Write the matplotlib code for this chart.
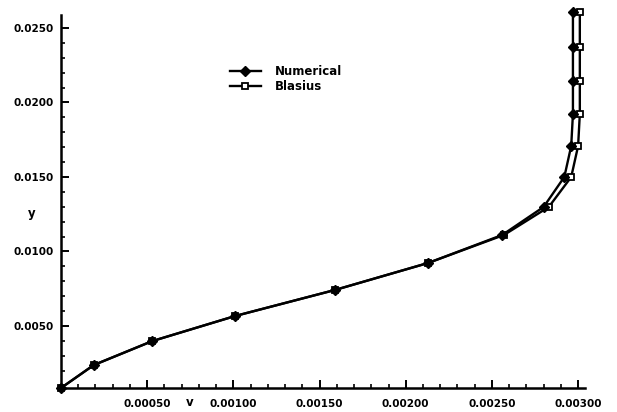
import matplotlib
matplotlib.use("Agg")
import matplotlib.pyplot as plt
from matplotlib.ticker import MultipleLocator, FixedLocator

# Data
y_grid = [0.00084, 0.00238, 0.00399, 0.00567, 0.00742, 0.00923, 0.01111,
          0.01299, 0.01500, 0.01708, 0.01923, 0.02144, 0.02372, 0.02607]
v_numerical = [0.0, 0.00019, 0.00053, 0.00101, 0.00159, 0.00213, 0.00256,
               0.00280, 0.00292, 0.00296, 0.00297, 0.00297, 0.00297, 0.00297]
v_blasius = [0.0, 0.00019, 0.00053, 0.00101, 0.00159, 0.00213, 0.00257,
             0.00283, 0.00296, 0.00300, 0.00301, 0.00301, 0.00301, 0.00301]

x_ticks = [0.0005, 0.0010, 0.0015, 0.0020, 0.0025, 0.0030]
x_ticklabels = ["0.00050", "0.00100", "0.00150", "0.00200", "0.00250", "0.00300"]
y_ticks = [0.0050, 0.0100, 0.0150, 0.0200, 0.0250]
y_ticklabels = ["0.0050", "0.0100", "0.0150", "0.0200", "0.0250"]

W, H = 617, 412
fig = plt.figure(figsize=(W / 100, H / 100), dpi=100)
ax = fig.add_axes([61 / W, 1 - 388 / H, (585 - 61) / W, (388 - 15) / H])

font = "DejaVu Sans"
ax.plot(v_numerical, y_grid, color="black", lw=1.7, marker="D", ms=5.5,
        mfc="black", mec="black", clip_on=False, label="Numerical", zorder=3)
ax.plot(v_blasius, y_grid, color="black", lw=1.7, marker="s", ms=4.5,
        mfc="white", mec="black", mew=1.3, clip_on=False, label="Blasius", zorder=2)

ax.set_xlim(0, 0.00304)
ax.set_ylim(0.00084, 0.02587)

for s in ["top", "right"]:
    ax.spines[s].set_visible(False)
for s in ["left", "bottom"]:
    ax.spines[s].set_linewidth(1.8)

ax.xaxis.set_major_locator(FixedLocator(x_ticks))
ax.set_xticklabels(x_ticklabels)
ax.xaxis.set_minor_locator(MultipleLocator(0.0001))
ax.yaxis.set_major_locator(FixedLocator(y_ticks))
ax.set_yticklabels(y_ticklabels)
ax.yaxis.set_minor_locator(MultipleLocator(0.001))

ax.tick_params(which="major", direction="in", length=6, width=1.4, pad=5)
ax.tick_params(axis="x", which="major", pad=8)
ax.tick_params(which="minor", direction="in", length=3, width=1.2)
for lab in ax.get_xticklabels() + ax.get_yticklabels():
    lab.set_fontfamily(font)
    lab.set_fontweight("bold")
    lab.set_fontsize(7.5)

fig.text(190 / W, 1 - 403 / H, "v", ha="center", va="center",
         fontsize=8.5, fontweight="bold", family=font)
fig.text(32 / W, 1 - 213 / H, "y", ha="center", va="center",
         fontsize=8.5, fontweight="bold", family=font)

leg = ax.legend(loc="upper left", bbox_to_anchor=(230 / W, 1 - 65 / H),
                bbox_transform=fig.transFigure, frameon=False,
                handlelength=2.6, handletextpad=1.2, labelspacing=0.2,
                borderaxespad=0, borderpad=0,
                prop={"family": font, "weight": "bold", "size": 8.5})

fig.savefig("out.png", dpi=100)
